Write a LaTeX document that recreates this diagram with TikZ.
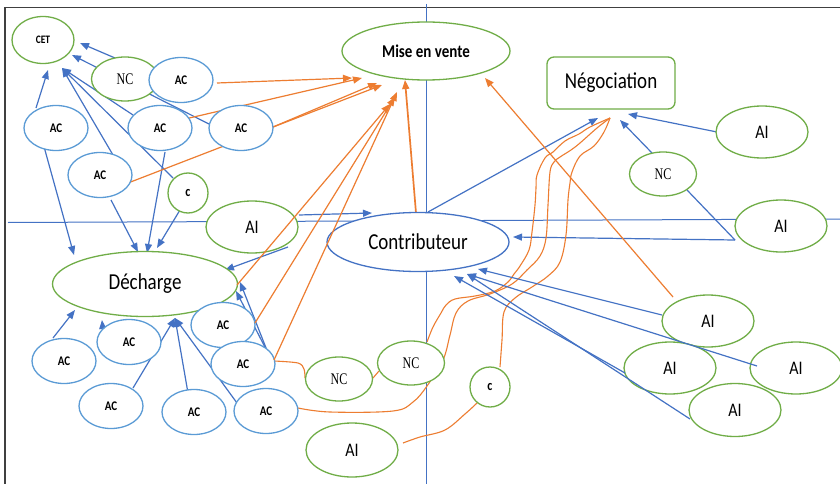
\documentclass[tikz,border=0pt]{standalone}
\usepackage{fontspec}
\setmainfont{Carlito}
\newfontfamily\ncfont{Liberation Serif}
\usetikzlibrary{shapes.geometric,arrows.meta}
\pgfdeclarelayer{background}
\pgfdeclarelayer{front}
\pgfsetlayers{background,main,front}
\definecolor{grn}{HTML}{70AD47}
\definecolor{lbl}{HTML}{5B9BD5}
\definecolor{dbl}{HTML}{4472C4}
\definecolor{org}{HTML}{ED7D31}
\definecolor{frm}{HTML}{404040}
% labels are set slightly taller than wide
\newcommand\tallt[1]{\scalebox{1}[1.2]{#1}}
\newcommand\talln[1]{\scalebox{1}[1.35]{#1}}
\tikzset{
  oval/.style={ellipse, inner sep=0pt, fill=white, line width=1.3pt, text=black},
  gov/.style={oval, draw=grn},
  bov/.style={oval, draw=lbl},
  acnode/.style={bov, minimum width=64pt, minimum height=45pt, font=\bfseries\fontsize{11}{11}\selectfont},
  ainode/.style={gov, minimum width=92pt, minimum height=52pt, font=\fontsize{16}{16}\selectfont},
  ncnode/.style={gov, minimum width=67pt, minimum height=44pt, font=\ncfont\fontsize{12}{12}\selectfont},
  cnode/.style={gov, circle, minimum size=40pt, font=\bfseries\fontsize{12}{12}\selectfont},
  bigtxt/.style={font=\fontsize{19}{19}\selectfont},
  barrow/.style={draw=dbl, line width=1.2pt, -{Triangle[length=9pt,width=7pt]}},
  bline/.style={draw=dbl, line width=1.2pt},
  oarrow/.style={draw=org, line width=1.2pt, -{Triangle[length=9pt,width=7pt]}},
  oline/.style={draw=org, line width=1.1pt},
  axis/.style={draw=dbl, line width=1pt}
}
\begin{document}
\begin{tikzpicture}[x=1pt, y=-1pt]
\useasboundingbox (0,0) rectangle (840,484);

% ---------- nodes ----------
\node[gov, minimum width=62pt, minimum height=47pt, font=\bfseries\fontsize{9.5}{9.5}\selectfont] (cet) at (43,40) {\tallt{CET}};
\node[ncnode] (ncA) at (125,79) {\talln{NC}};
\node[acnode] (acA) at (181,80) {\tallt{AC}};
\node[acnode] (acL) at (56,128) {\tallt{AC}};
\node[acnode] (acM) at (160,128) {\tallt{AC}};
\node[acnode] (acR) at (241,128) {\tallt{AC}};
\node[acnode] (acLow) at (100,175) {\tallt{AC}};
\node[cnode] (cA) at (188,193) {\tallt{c}};
\node[ainode] (aiL) at (252,227) {\tallt{AI}};
\node[oval, draw=dbl, minimum width=182pt, minimum height=59pt, bigtxt] (contrib) at (418,242) {\tallt{Contributeur}};
\node[gov, minimum width=168pt, minimum height=58pt, font=\bfseries\fontsize{15}{15}\selectfont] (mise) at (426,51) {\tallt{Mise en vente}};
\node[draw=grn, line width=1.3pt, rounded corners=7pt, fill=white, inner sep=0pt, minimum width=128pt, minimum height=52pt, bigtxt] (nego) at (611,83) {\tallt{Négociation}};
\node[ainode] (aiR1) at (762,132) {\tallt{AI}};
\node[ncnode] (ncR) at (663,174) {\talln{NC}};
\node[ainode] (aiR2) at (781,226) {\tallt{AI}};
\node[gov, minimum width=185pt, minimum height=65pt, bigtxt] (dech) at (145,284) {\tallt{Décharge}};
\node[acnode] (ac1) at (64,361) {\tallt{AC}};
\node[acnode] (ac2) at (129,342) {\tallt{AC}};
\node[acnode] (ac3) at (111,406) {\tallt{AC}};
\node[acnode] (ac4) at (194,412) {\tallt{AC}};
\node[acnode] (ac5) at (266,411) {\tallt{AC}};
\node[acnode] (ac6) at (223,325) {\tallt{AC}};
\node[acnode] (ac7) at (243,364) {\tallt{AC}};
\node[ncnode] (ncB1) at (339,379) {\talln{NC}};
\node[ncnode] (ncB2) at (411,363) {\talln{NC}};
\node[cnode] (cB) at (490,387) {\tallt{c}};
\node[ainode, minimum height=54pt] (aiB) at (352,450) {\tallt{AI}};
\node[ainode] (ai1) at (708,321) {\tallt{AI}};
\node[ainode] (ai2) at (670,368) {\tallt{AI}};
\node[ainode] (ai3) at (796,368) {\tallt{AI}};
\node[ainode, minimum height=53pt] (ai4) at (735,410) {\tallt{AI}};

% ---------- behind the nodes ----------
\begin{pgfonlayer}{background}
  \fill[white] (0,0) rectangle (840,484);
  \draw[frm, line width=1.6pt] (5,484) -- (5,7.5) -- (840,7.5);
  \coordinate (axT) at (426,4);
  \coordinate (axB) at (426,484);
  \coordinate (axL) at (8,222.5);
  \coordinate (axR) at (840,219);
  \draw[axis] (axT) -- (axB);
  \draw[axis] (axL) -- (axR);

  % towards CET
  \draw[barrow] ([shift={(-10,-21)}]ncA.center) -- ([shift={(37,3)}]cet.center);
  \draw[barrow] ([shift={(-32,-4)}]acR.center) -- ([shift={(29,15)}]cet.center);
  \draw[barrow] ([shift={(-20,-20)}]acL.center) -- ([shift={(5,30)}]cet.center);
  \draw[barrow] ([shift={(13,-20)}]acLow.center) -- ([shift={(19,28)}]cet.center);
  \draw[barrow] ([shift={(-27,-13)}]acM.center) -- ([shift={(19,28)}]cet.center);
  \draw[barrow] ([shift={(-15,-15)}]cA.center) -- ([shift={(19,28)}]cet.center);

  % towards Décharge
  \draw[barrow] ([shift={(-13,15)}]acL.center) -- ([shift={(-71,-29)}]dech.center);
  \draw[barrow] ([shift={(11,25)}]acLow.center) -- ([shift={(-7,-32)}]dech.center);
  \draw[barrow] ([shift={(5,24)}]acM.center) -- ([shift={(2,-31)}]dech.center);
  \draw[barrow] ([shift={(-8,17)}]cA.center) -- ([shift={(12,-36)}]dech.center);
  \draw[barrow] ([shift={(36,20)}]aiL.center) -- ([shift={(80,-14)}]dech.center);
  \draw[barrow] ([shift={(27,-6)}]ac7.center) -- ([shift={(95,-2)}]dech.center);
  \draw[barrow] ([shift={(24,-13)}]ac7.center) -- ([shift={(91,7)}]dech.center);
  \draw[barrow] ([shift={(-11,-23)}]ac1.center) -- ([shift={(-70,26)}]dech.center);
  \draw[barrow] ([shift={(-26,-10)}]ac2.center) -- ([shift={(-43,36)}]dech.center);
  \draw[barrow] ([shift={(22,-18)}]ac3.center) -- ([shift={(30,34)}]dech.center);
  \draw[barrow] ([shift={(-6,-19)}]ac4.center) -- ([shift={(30,34)}]dech.center);
  \draw[barrow] ([shift={(-29,-8)}]ac5.center) -- ([shift={(30,34)}]dech.center);

  % Contributeur and Négociation
  \draw[barrow] ([shift={(47,-12)}]aiL.center) -- ([shift={(-46,-29)}]contrib.center);
  \draw[barrow] ([shift={(10,-30)}]contrib.center) -- ([shift={(-13,35)}]nego.center);
  \draw[barrow] ([shift={(-45,0)}]aiR1.center) -- ([shift={(17,31)}]nego.center);
  \draw[barrow] ([shift={(-11,-21)}]ncR.center) -- ([shift={(9,37)}]nego.center);
  \draw[bline] ([shift={(24,16)}]ncR.center) -- ([shift={(-46,14)}]aiR2.center);
  \draw[barrow] ([shift={(-46,14)}]aiR2.center) -- ([shift={(95,-5)}]contrib.center);

  % towards Mise en vente
  \draw[oarrow] ([shift={(36,3)}]acA.center) -- ([shift={(-74,27)}]mise.center);
  \draw[oarrow] ([shift={(25,-9)}]acM.center) -- ([shift={(-64,27)}]mise.center);
  \draw[oarrow] ([shift={(32,-1)}]acR.center) -- ([shift={(-49,32)}]mise.center);
  \draw[oarrow] ([shift={(28,8)}]acLow.center) -- ([shift={(-44,34)}]mise.center);
  \draw[oarrow, line width=1.7pt] ([shift={(-2,-29)}]contrib.center) -- ([shift={(-21,29)}]mise.center);
  \draw[oarrow] ([shift={(-35,-24)}]ai1.center) -- ([shift={(59,27)}]mise.center);

  % hand-drawn links
  \draw[oline] plot[smooth, tension=0.5] coordinates {([shift={(31,-3)}]ac7.center) (298,363) (304,369) ([shift={(-34,-1)}]ncB1.center)};
  \draw[oline] ([shift={(34,-1)}]ncB1.center) -- ([shift={(-32,8)}]ncB2.center);
  \draw[oline] plot[smooth, tension=0.6] coordinates {([shift={(16,-21)}]ncB2.center) (433,327) (441,313) (446,305) (455,299) (475,296) (495,291) (508,282) (514,274) (520,266) (529,250) (532,232) (535,205) (536,188) (537,175) (545,158) (553,152) (565,141) (579,134) (590,127) ([shift={(-1,35)}]nego.center)};
  \draw[oline] plot[smooth, tension=0.6] coordinates {([shift={(32,-3)}]ac5.center) (330,412) (393,411) (413,402) (427,386) (443,360) (450,335) (456,313) (468,301) (490,294) (512,284) (527,270) (540,256) (546,238) (548,205) (550,172) (554,162) (560,157) (571,150) (580,143) (597,128) ([shift={(-1,35)}]nego.center)};
  \draw[oline] plot[smooth, tension=0.6] coordinates {([shift={(10,-20)}]cB.center) (502,340) (504,312) (515,298) (532,287) (548,276) (560,262) (566,235) (568,200) (570,183) (572,172) (580,156) (594,146) (604,132) ([shift={(-1,35)}]nego.center)};
  \draw[oline] plot[smooth, tension=0.6] coordinates {([shift={(51,-7)}]aiB.center) (420,437) (445,430) (465,414) ([shift={(-13,16)}]cB.center)};
\end{pgfonlayer}

% ---------- over the nodes ----------
\begin{pgfonlayer}{front}
  \draw[barrow] ([shift={(-46,-6)}]ai1.center) -- ([shift={(60,27)}]contrib.center);
  \draw[barrow] ([shift={(-39,-2)}]ai3.center) -- ([shift={(49,32)}]contrib.center);
  \draw[barrow] ([shift={(-45,9)}]ai4.center) -- ([shift={(49,32)}]contrib.center);
  \draw[barrow] ([shift={(-45,5)}]ai2.center) -- ([shift={(36,34)}]contrib.center);
  \draw[oarrow] ([shift={(92,1)}]dech.center) -- ([shift={(-36,53)}]mise.center);
  \draw[oarrow] ([shift={(32,-2)}]ac6.center) -- ([shift={(-31,46)}]mise.center);
  \draw[oarrow] ([shift={(31,-4)}]ac7.center) -- ([shift={(-29,41)}]mise.center);
\end{pgfonlayer}
\end{tikzpicture}
\end{document}
